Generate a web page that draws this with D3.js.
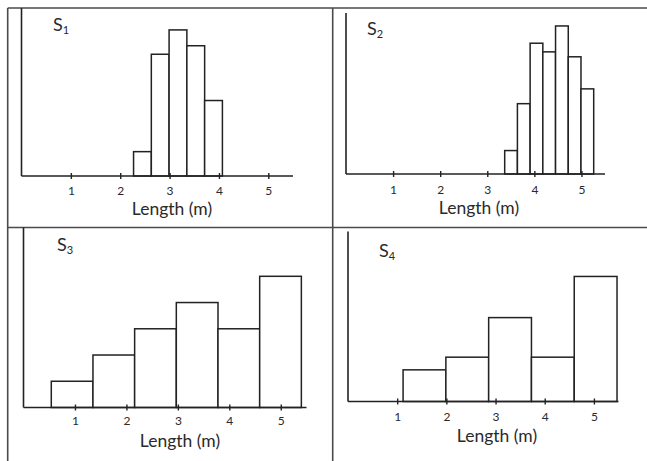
<!DOCTYPE html>
<html>
<head>
<meta charset="utf-8">
<script src="https://cdn.jsdelivr.net/npm/d3@7"></script>
<style>
  body { margin: 0; background: #fff; }
  text { font-family: Lato, "Open Sans", sans-serif; fill: #2a2a2a; }
</style>
</head>
<body>
<div id="chart"></div>
<script>
// Histogram data (bin edges in metres, bar heights in relative counts)
const s1Edges = [2.27, 2.63, 2.99, 3.35, 3.71, 4.07];
const s1Counts = [2, 10, 12, 10.7, 6.2];

const s2Edges = [3.37, 3.64, 3.91, 4.18, 4.45, 4.72, 4.99, 5.26];
const s2Counts = [1.9, 5.7, 10.6, 9.9, 12, 9.5, 6.9];

const s3Edges = [0.54, 1.35, 2.16, 2.97, 3.78, 4.59, 5.40];
const s3Counts = [1, 2, 3, 4, 3, 5];

const s4Edges = [1.12, 1.99, 2.86, 3.73, 4.60, 5.47];
const s4Counts = [1, 1.4, 2.65, 1.4, 3.95];

const tickValues = [1, 2, 3, 4, 5];
const panelNames = ["1", "2", "3", "4"];
const axisTitle = "Length (m)";

// Panel layout on the page
const panels = [
    {edges: s1Edges, counts: s1Counts, x0: 21.5, x1: 293,   top: 8,     base: 176,   yMax: 13.8, lx: 53,  ly: 31,  tickY: 195, titleY: 214.5, titleX: 172},
    {edges: s2Edges, counts: s2Counts, x0: 346,  x1: 605,   top: 13,    base: 174,   yMax: 13.05, lx: 367, ly: 35, tickY: 193.5, titleY: 214, titleX: 479},
    {edges: s3Edges, counts: s3Counts, x0: 23.5, x1: 306.5, top: 227.5, base: 407.5, yMax: 6.86, lx: 57,  ly: 251, tickY: 425, titleY: 447, titleX: 180},
    {edges: s4Edges, counts: s4Counts, x0: 348,  x1: 618.5, top: 231.5, base: 401.5, yMax: 5.37, lx: 379, ly: 257, tickY: 421, titleY: 441.5, titleX: 497}
];

const width = 647, height = 461;

const svg = d3.select("#chart").append("svg")
    .attr("width", width)
    .attr("height", height);

// Frame lines
const frame = svg.append("g").attr("id", "frame")
    .style("stroke", "#4a4a4a")
    .style("stroke-width", 1.6);
frame.append("line").attr("x1", 7.7).attr("x2", width).attr("y1", 8).attr("y2", 8);
frame.append("line").attr("x1", 7.7).attr("x2", 7.7).attr("y1", 8).attr("y2", height);
frame.append("line").attr("x1", 332.7).attr("x2", 332.7).attr("y1", 8).attr("y2", height);
frame.append("line").attr("x1", 7.7).attr("x2", width).attr("y1", 227.5).attr("y2", 227.5);

panels.forEach((p, i) => {
    let g = svg.append("g").attr("id", "panel" + (i + 1));

    let x = d3.scaleLinear().domain([0, 5.5]).range([p.x0, p.x1]);
    let y = d3.scaleLinear().domain([0, p.yMax]).range([p.base, p.top]);

    let bins = p.counts.map((c, k) => ({lo: p.edges[k], hi: p.edges[k + 1], c: c}));

    // Bars
    g.append("g").selectAll("rect")
        .data(bins)
        .join("rect")
        .attr("x", d => x(d.lo))
        .attr("y", d => y(d.c))
        .attr("width", d => x(d.hi) - x(d.lo))
        .attr("height", d => y(0) - y(d.c))
        .style("fill", "#fff")
        .style("stroke", "#222")
        .style("stroke-width", 1.5);

    // x axis
    let xAxis = d3.axisBottom(x)
        .tickValues(tickValues)
        .tickSize(0)
        .tickPadding(0)
        .tickFormat(d3.format("d"));
    let ax = g.append("g")
        .attr("transform", "translate(0," + p.base + ")")
        .call(xAxis);
    ax.select(".domain").attr("d", "M" + x(0) + ",0H" + p.x1)
        .style("stroke", "#222").style("stroke-width", 1.6);
    ax.selectAll(".tick line").attr("y1", -3).attr("y2", 3)
        .style("stroke", "#222").style("stroke-width", 1.4);
    ax.selectAll(".tick text")
        .attr("y", p.tickY - p.base)
        .attr("dy", 0)
        .style("font-size", "12px")
        .style("font-family", "Lato, sans-serif")
        .style("fill", "#2a2a2a");

    // y axis
    g.append("line")
        .attr("x1", x(0)).attr("x2", x(0))
        .attr("y1", p.top).attr("y2", p.base)
        .style("stroke", "#222").style("stroke-width", 1.6);

    // Axis title
    g.append("text")
        .attr("x", p.titleX)
        .attr("y", p.titleY)
        .attr("text-anchor", "middle")
        .style("font-size", "17.5px")
        .text(axisTitle);

    // Panel label S with subscript
    let lab = g.append("text")
        .attr("x", p.lx)
        .attr("y", p.ly)
        .style("font-size", "18px");
    lab.append("tspan").text("S");
    lab.append("tspan").attr("dy", 3).style("font-size", "11px").text(panelNames[i]);
});
</script>
</body>
</html>
